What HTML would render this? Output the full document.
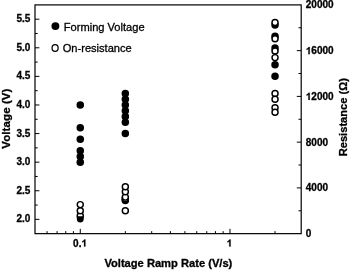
<!DOCTYPE html><html><head><meta charset="utf-8"><style>html,body{margin:0;padding:0;background:#fff}svg{display:block;filter:blur(0.3px)}text{font-family:"Liberation Sans",sans-serif;fill:#000;stroke:#000;stroke-width:0.3px}</style></head><body>
<svg width="350" height="270" viewBox="0 0 350 270">
<rect width="350" height="270" fill="#fff"/>
<rect x="35.0" y="4.9" width="266.2" height="228.75" fill="none" stroke="#000" stroke-width="1.2"/>
<path d="M35.0 219.35h4.4 M35.0 190.76h4.4 M35.0 162.17h4.4 M35.0 133.57h4.4 M35.0 104.98h4.4 M35.0 76.38h4.4 M35.0 47.79h4.4 M35.0 19.20h4.4 M35.0 205.06h2.7 M35.0 176.46h2.7 M35.0 147.87h2.7 M35.0 119.28h2.7 M35.0 90.68h2.7 M35.0 62.09h2.7 M35.0 33.49h2.7 M301.2 187.90h-4.4 M301.2 142.15h-4.4 M301.2 96.40h-4.4 M301.2 50.65h-4.4 M301.2 210.78h-2.7 M301.2 165.03h-2.7 M301.2 119.28h-2.7 M301.2 73.53h-2.7 M301.2 27.78h-2.7 M80.27 233.65v-4.8 M229.97 233.65v-4.8 M47.05 233.65v-2.5 M57.08 233.65v-2.5 M65.76 233.65v-2.5 M73.42 233.65v-2.5 M125.33 233.65v-2.5 M151.69 233.65v-2.5 M170.40 233.65v-2.5 M184.91 233.65v-2.5 M196.76 233.65v-2.5 M206.78 233.65v-2.5 M215.46 233.65v-2.5 M223.12 233.65v-2.5 M275.04 233.65v-2.5" stroke="#000" stroke-width="1" fill="none"/>
<text x="16.40 21.96 24.74" y="222.45" font-size="10.0" font-weight="bold" stroke-width="0.22">2.0</text>
<text x="16.40 21.96 24.74" y="193.86" font-size="10.0" font-weight="bold" stroke-width="0.22">2.5</text>
<text x="16.40 21.96 24.74" y="165.27" font-size="10.0" font-weight="bold" stroke-width="0.22">3.0</text>
<text x="16.40 21.96 24.74" y="136.67" font-size="10.0" font-weight="bold" stroke-width="0.22">3.5</text>
<text x="16.40 21.96 24.74" y="108.08" font-size="10.0" font-weight="bold" stroke-width="0.22">4.0</text>
<text x="16.40 21.96 24.74" y="79.48" font-size="10.0" font-weight="bold" stroke-width="0.22">4.5</text>
<text x="16.40 21.96 24.74" y="50.89" font-size="10.0" font-weight="bold" stroke-width="0.22">5.0</text>
<text x="16.40 21.96 24.74" y="22.30" font-size="10.0" font-weight="bold" stroke-width="0.22">5.5</text>
<text x="305.80" y="237.15" font-size="10.0" font-weight="bold" stroke-width="0.22">0</text>
<text x="305.80 311.36 316.92 322.48" y="191.40" font-size="10.0" font-weight="bold" stroke-width="0.22">4000</text>
<text x="305.80 311.36 316.92 322.48" y="145.65" font-size="10.0" font-weight="bold" stroke-width="0.22">8000</text>
<path transform="translate(305.80,99.90) scale(0.00488,-0.00488)" d="M806 0H525V1059Q371 915 162 846V1101Q272 1137 401 1237.5T578 1472H806Z" fill="#000" stroke="#000" stroke-width="45.1"/>
<text x="311.36 316.92 322.48 328.05" y="99.90" font-size="10.0" font-weight="bold" stroke-width="0.22">2000</text>
<path transform="translate(305.80,54.15) scale(0.00488,-0.00488)" d="M806 0H525V1059Q371 915 162 846V1101Q272 1137 401 1237.5T578 1472H806Z" fill="#000" stroke="#000" stroke-width="45.1"/>
<text x="311.36 316.92 322.48 328.05" y="54.15" font-size="10.0" font-weight="bold" stroke-width="0.22">6000</text>
<text x="305.80 311.36 316.92 322.48 328.05" y="8.40" font-size="10.0" font-weight="bold" stroke-width="0.22">20000</text>
<path transform="translate(81.46,246.60) scale(0.00488,-0.00488)" d="M806 0H525V1059Q371 915 162 846V1101Q272 1137 401 1237.5T578 1472H806Z" fill="#000" stroke="#000" stroke-width="45.1"/>
<text x="73.12 78.68" y="246.60" font-size="10.0" font-weight="bold" stroke-width="0.22">0.</text>
<path transform="translate(226.69,246.60) scale(0.00488,-0.00488)" d="M806 0H525V1059Q371 915 162 846V1101Q272 1137 401 1237.5T578 1472H806Z" fill="#000" stroke="#000" stroke-width="45.1"/>
<g font-size="11.15" font-weight="bold" text-anchor="middle">
<text id="xt" x="168.35" y="266.7">Voltage Ramp Rate (V/s)</text>
<text id="yt" font-size="11.5" letter-spacing="0.1" transform="translate(10.3,118.6) rotate(-90)">Voltage (V)</text>
<text id="rt" transform="translate(346.6,117.2) rotate(-90)">Resistance (Ω)</text>
</g>
<g font-size="11.1">
<circle cx="55.4" cy="26.1" r="3.95" fill="#000"/>
<ellipse cx="55.1" cy="48.0" rx="3.05" ry="3.4" fill="#fff" stroke="#000" stroke-width="1.25"/>
<text id="l1" x="63.8" y="30.5">Forming Voltage</text>
<text id="l2" x="62.7" y="51.7">On-resistance</text>
</g>
<circle cx="80.27" cy="104.98" r="3.75" fill="#000"/>
<circle cx="80.27" cy="127.85" r="3.75" fill="#000"/>
<circle cx="80.27" cy="139.29" r="3.75" fill="#000"/>
<circle cx="80.27" cy="150.73" r="3.75" fill="#000"/>
<circle cx="80.27" cy="156.45" r="3.75" fill="#000"/>
<circle cx="80.27" cy="162.17" r="3.75" fill="#000"/>
<circle cx="125.33" cy="93.54" r="3.75" fill="#000"/>
<circle cx="125.33" cy="99.26" r="3.75" fill="#000"/>
<circle cx="125.33" cy="104.98" r="3.75" fill="#000"/>
<circle cx="125.33" cy="110.70" r="3.75" fill="#000"/>
<circle cx="125.33" cy="116.42" r="3.75" fill="#000"/>
<circle cx="125.33" cy="122.13" r="3.75" fill="#000"/>
<circle cx="125.33" cy="133.57" r="3.75" fill="#000"/>
<circle cx="275.04" cy="25.00" r="3.75" fill="#000"/>
<circle cx="275.04" cy="36.30" r="3.75" fill="#000"/>
<circle cx="275.04" cy="47.90" r="3.75" fill="#000"/>
<circle cx="275.04" cy="64.80" r="3.75" fill="#000"/>
<circle cx="275.04" cy="76.20" r="3.75" fill="#000"/>
<circle cx="80.27" cy="215.70" r="3.0" fill="#fff" stroke="#000" stroke-width="1.45"/>
<circle cx="80.27" cy="210.70" r="3.0" fill="#fff" stroke="#000" stroke-width="1.45"/>
<circle cx="80.27" cy="204.60" r="3.0" fill="#fff" stroke="#000" stroke-width="1.45"/>
<path d="M76.82 216.3H83.72V219A3.45 3.45 0 0 1 76.82 219Z" fill="#000"/>
<circle cx="125.33" cy="210.80" r="3.0" fill="#fff" stroke="#000" stroke-width="1.45"/>
<circle cx="125.33" cy="200.40" r="3.0" fill="#fff" stroke="#000" stroke-width="1.45"/>
<circle cx="125.33" cy="199.50" r="3.0" fill="#fff" stroke="#000" stroke-width="1.45"/>
<circle cx="125.33" cy="198.50" r="3.0" fill="#fff" stroke="#000" stroke-width="1.45"/>
<circle cx="125.33" cy="197.10" r="3.0" fill="#fff" stroke="#000" stroke-width="1.45"/>
<circle cx="125.33" cy="191.70" r="3.0" fill="#fff" stroke="#000" stroke-width="1.45"/>
<circle cx="125.33" cy="186.70" r="3.0" fill="#fff" stroke="#000" stroke-width="1.45"/>
<circle cx="275.04" cy="93.50" r="3.0" fill="#fff" stroke="#000" stroke-width="1.45"/>
<circle cx="275.04" cy="99.20" r="3.0" fill="#fff" stroke="#000" stroke-width="1.45"/>
<circle cx="275.04" cy="107.80" r="3.0" fill="#fff" stroke="#000" stroke-width="1.45"/>
<circle cx="275.04" cy="112.30" r="3.0" fill="#fff" stroke="#000" stroke-width="1.45"/>
<circle cx="275.04" cy="57.60" r="3.0" fill="#fff" stroke="#000" stroke-width="1.45"/>
<circle cx="275.04" cy="51.00" r="3.0" fill="#fff" stroke="#000" stroke-width="1.45"/>
<circle cx="275.04" cy="38.80" r="3.0" fill="#fff" stroke="#000" stroke-width="1.45"/>
<circle cx="275.04" cy="22.40" r="3.0" fill="#fff" stroke="#000" stroke-width="1.45"/>
</svg></body></html>
